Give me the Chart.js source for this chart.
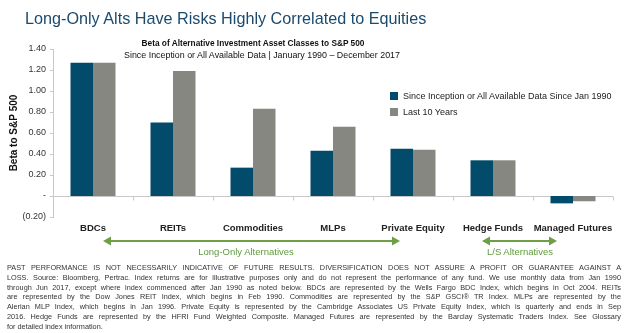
<!DOCTYPE html>
<html>
<head>
<meta charset="utf-8">
<script src="https://cdn.jsdelivr.net/npm/chart.js@4/dist/chart.umd.min.js"></script>
<style>
  body { margin: 0; background: #fff; font-family: "Liberation Sans", Arial, sans-serif; }
  #wrap { position: relative; width: 628px; height: 333px; overflow: hidden; }
  #c { position: absolute; left: 0; top: 0; }
  .abs { position: absolute; white-space: nowrap; }
  #titulo { left: 25px; top: 10px; font-size: 16.2px; line-height: 16px; color: #1b4a6d; }
  .sub { width: 400px; text-align: center; line-height: 10px; color: #111; }
  #legenda { left: 390px; top: 91px; font-size: 9px; color: #222; }
  #legenda div { height: 16px; display: flex; align-items: flex-start; }
  #legenda span.box { display: inline-block; width: 8px; height: 8px; margin-right: 5px; margin-top: 1px; }
  .grp { font-size: 9.5px; line-height: 10px; color: #5f9a3c; text-align: center; width: 200px; }
  #nota { position: absolute; left: 7px; top: 263px; width: 614px; font-size: 7.3px; line-height: 9.8px; color: #333; }
  #nota div { text-align: justify; text-align-last: justify; white-space: nowrap; }
  #nota div.last { text-align-last: left; }
</style>
</head>
<body>
<div id="wrap">
  <canvas id="c" width="628" height="333"></canvas>
  <div id="titulo" class="abs">Long-Only Alts Have Risks Highly Correlated to Equities</div>
  <div class="abs sub" style="top:38px;left:53px;font-weight:bold;font-size:8.3px">Beta of Alternative Investment Asset Classes to S&amp;P 500</div>
  <div class="abs sub" style="top:50px;left:62px;font-size:8.9px">Since Inception or All Available Data | January 1990 – December 2017</div>
  <div id="legenda" class="abs"></div>
  <div class="abs grp" style="left:146px;top:247px">Long-Only Alternatives</div>
  <div class="abs grp" style="left:420px;top:247px">L/S Alternatives</div>
  <div id="nota">
    <div>PAST PERFORMANCE IS NOT NECESSARILY INDICATIVE OF FUTURE RESULTS. DIVERSIFICATION DOES NOT ASSURE A PROFIT OR GUARANTEE AGAINST A</div>
    <div>LOSS. Source: Bloomberg, Pertrac. Index returns are for illustrative purposes only and do not represent the performance of any fund. We use monthly data from Jan 1990</div>
    <div>through Jun 2017, except where index commenced after Jan 1990 as noted below. BDCs are represented by the Wells Fargo BDC Index, which begins in Oct 2004. REITs</div>
    <div>are represented by the Dow Jones REIT Index, which begins in Feb 1990. Commodities are represented by the S&amp;P GSCI® TR Index. MLPs are represented by the</div>
    <div>Alerian MLP Index, which begins in Jan 1996. Private Equity is represented by the Cambridge Associates US Private Equity Index, which is quarterly and ends in Sep</div>
    <div>2016. Hedge Funds are represented by the HFRI Fund Weighted Composite. Managed Futures are represented by the Barclay Systematic Traders Index. See Glossary</div>
    <div class="last">for detailed index information.</div>
  </div>
</div>
<script>
// dados do grafico
var categorias = ["BDCs", "REITs", "Commodities", "MLPs", "Private Equity", "Hedge Funds", "Managed Futures"];
var desdeInicio = [1.27, 0.70, 0.27, 0.43, 0.45, 0.34, -0.07];
var ultimos10 = [1.27, 1.19, 0.83, 0.66, 0.44, 0.34, -0.05];
var nomesSeries = ["Since Inception or All Available Data Since Jan 1990", "Last 10 Years"];
var cores = ["#034b6a", "#878781"];
var eixoMin = -0.2, eixoMax = 1.4, passo = 0.2;

Chart.defaults.font.family = '"Liberation Sans", Arial, sans-serif';

var CINZA = "#c8c8c8";

// marquinhas no eixo zero e as setas verdes
var extras = {
  id: "extras",
  afterDraw: function (chart) {
    var ctx = chart.ctx;
    var x = chart.scales.x, y = chart.scales.y;
    var y0 = Math.round(y.getPixelForValue(0)) + 0.5;
    ctx.save();
    ctx.strokeStyle = CINZA;
    ctx.lineWidth = 1;
    for (var i = 0; i <= categorias.length; i++) {
      var px;
      if (i == 0) px = chart.chartArea.left;
      else if (i == categorias.length) px = chart.chartArea.right;
      else px = (x.getPixelForTick(i - 1) + x.getPixelForTick(i)) / 2;
      px = Math.round(px) + 0.5;
      ctx.beginPath();
      ctx.moveTo(px, y0);
      ctx.lineTo(px, y0 + 4);
      ctx.stroke();
    }
    seta(ctx, 103, 400, 241);
    seta(ctx, 482, 557, 241);
    ctx.restore();
  }
};

function seta(ctx, x1, x2, yy) {
  ctx.strokeStyle = "#6f9f45";
  ctx.fillStyle = "#6f9f45";
  ctx.lineWidth = 2;
  ctx.beginPath();
  ctx.moveTo(x1 + 6, yy);
  ctx.lineTo(x2 - 6, yy);
  ctx.stroke();
  ctx.beginPath();
  ctx.moveTo(x1, yy);
  ctx.lineTo(x1 + 8, yy - 4.5);
  ctx.lineTo(x1 + 8, yy + 4.5);
  ctx.closePath();
  ctx.fill();
  ctx.beginPath();
  ctx.moveTo(x2, yy);
  ctx.lineTo(x2 - 8, yy - 4.5);
  ctx.lineTo(x2 - 8, yy + 4.5);
  ctx.closePath();
  ctx.fill();
}

var grafico = new Chart(document.getElementById("c"), {
  type: "bar",
  data: {
    labels: categorias,
    datasets: [
      { label: nomesSeries[0], data: desdeInicio, backgroundColor: cores[0], borderWidth: 0 },
      { label: nomesSeries[1], data: ultimos10, backgroundColor: cores[1], borderWidth: 0 }
    ]
  },
  options: {
    responsive: false,
    animation: false,
    devicePixelRatio: 1,
    categoryPercentage: 0.5625,
    barPercentage: 1,
    layout: { padding: { top: 49, left: 0, right: 15, bottom: 96 } },
    plugins: { legend: { display: false }, tooltip: { enabled: false } },
    scales: {
      x: {
        grid: { display: false, drawTicks: false },
        border: { display: false },
        ticks: { font: { size: 9.5, weight: "bold" }, color: "#222", padding: 6, maxRotation: 0, autoSkip: false },
        afterFit: function (s) { s.height = 20; }
      },
      y: {
        min: eixoMin,
        max: eixoMax,
        border: { display: true, color: CINZA },
        grid: {
          color: function (c) { return Math.abs(c.tick.value) < 1e-9 ? CINZA : "rgba(0,0,0,0)"; },
          tickColor: CINZA,
          tickLength: 3
        },
        ticks: {
          stepSize: passo,
          font: { size: 9 },
          color: "#333",
          padding: 4,
          callback: function (v) {
            if (Math.abs(v) < 1e-9) return "-";
            if (v < 0) return "(" + Math.abs(v).toFixed(2) + ")";
            return v.toFixed(2);
          }
        },
        title: { display: true, text: "Beta to S&P 500", font: { size: 10, weight: "bold" }, color: "#111", padding: { top: 8, bottom: 0 } },
        afterFit: function (s) { s.width = 53; }
      }
    }
  },
  plugins: [extras]
});

// legenda em html
var leg = document.getElementById("legenda");
grafico.data.datasets.forEach(function (ds) {
  var d = document.createElement("div");
  d.innerHTML = '<span class="box" style="background:' + ds.backgroundColor + '"></span>' + ds.label;
  leg.appendChild(d);
});
</script>
</body>
</html>
